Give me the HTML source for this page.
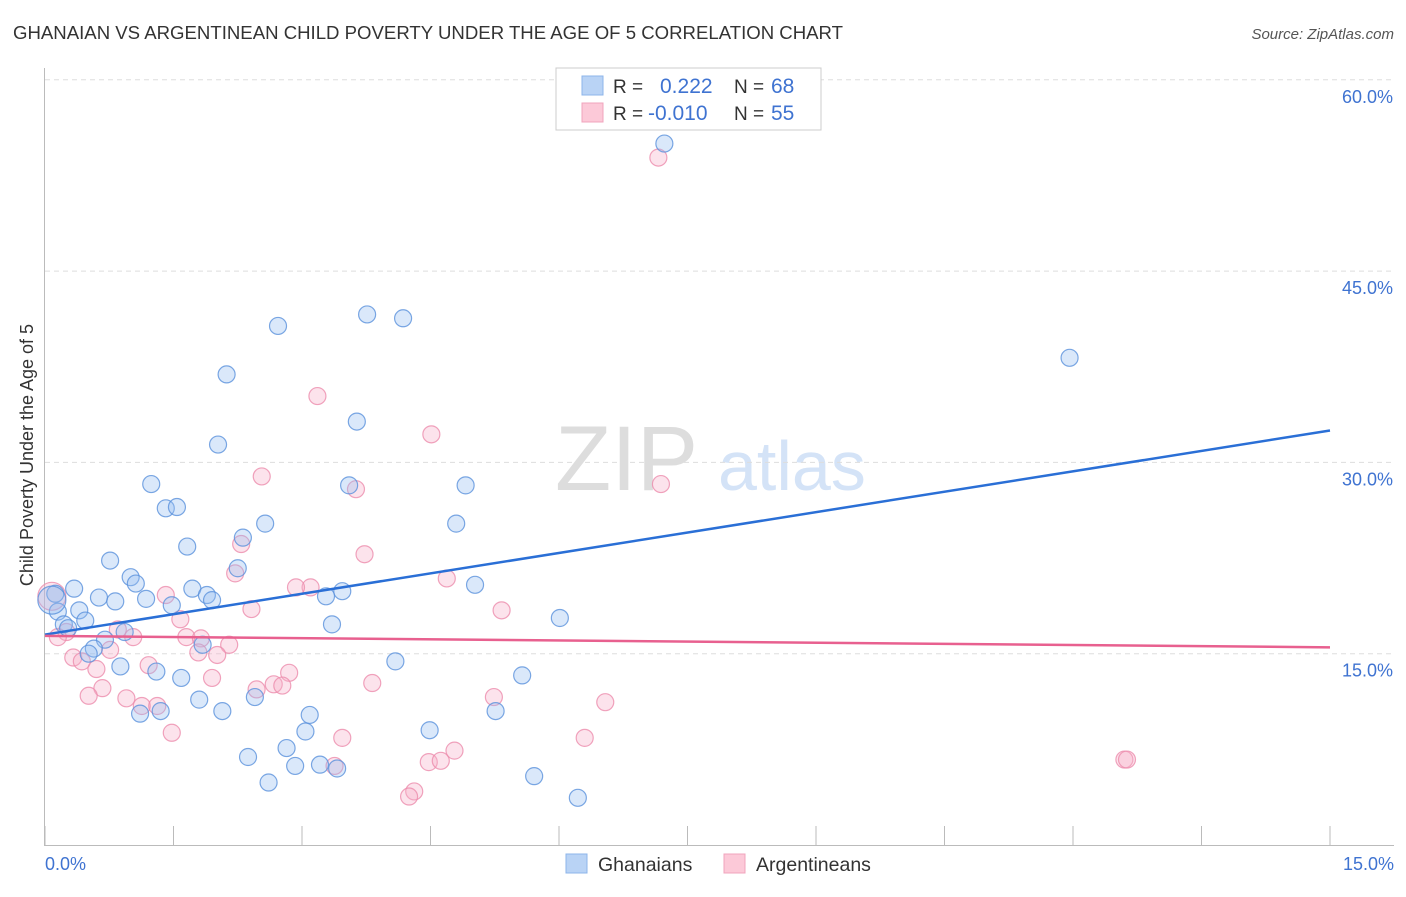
<!DOCTYPE html>
<html><head><meta charset="utf-8"><style>
body{margin:0;background:#fff;font-family:"Liberation Sans",sans-serif}
svg text{font-family:"Liberation Sans",sans-serif}
</style></head><body>
<svg id="chart" width="1406" height="892" viewBox="0 0 1406 892">
<text x="13" y="39" font-size="18.6" fill="#333">GHANAIAN VS ARGENTINEAN CHILD POVERTY UNDER THE AGE OF 5 CORRELATION CHART</text>
<text x="1394" y="39" font-size="15" fill="#555" font-style="italic" text-anchor="end">Source: ZipAtlas.com</text>
<g>
<text x="555" y="490" font-size="92" fill="#ddd" font-family="Liberation Serif">ZIP</text>
<text x="718" y="490" font-size="70" fill="#d4e3f7">atlas</text>
</g>
<g id="grid"></g>
<g id="axes"></g>
<g id="pts"></g>
<g id="lines"></g>
<text transform="translate(33,455) rotate(-90)" font-size="18" fill="#333" text-anchor="middle">Child Poverty Under the Age of 5</text>
<text x="45" y="870" font-size="18" fill="#3f73d1">0.0%</text>
<text x="1394" y="870" font-size="18" fill="#3f73d1" text-anchor="end">15.0%</text>
<g>
<rect x="556" y="68" width="265" height="62" fill="#fff" stroke="#ccc"/>
<rect x="582" y="76" width="21" height="19" fill="#b9d3f5" stroke="#8db4ea"/>
<rect x="582" y="103" width="21" height="19" fill="#fcc9d8" stroke="#f0a4bd"/>
<text x="613" y="93" font-size="19" fill="#333">R =</text>
<text x="660" y="93" font-size="21" fill="#3f73d1">0.222</text>
<text x="734" y="93" font-size="19" fill="#333">N =</text>
<text x="771" y="93" font-size="21" fill="#3f73d1">68</text>
<text x="613" y="120" font-size="19" fill="#333">R =</text>
<text x="648" y="120" font-size="21" fill="#3f73d1">-0.010</text>
<text x="734" y="120" font-size="19" fill="#333">N =</text>
<text x="771" y="120" font-size="21" fill="#3f73d1">55</text>
</g>
<g>
<rect x="566" y="854" width="21" height="19" fill="#b9d3f5" stroke="#8db4ea"/>
<text x="598" y="871" font-size="19.5" fill="#333">Ghanaians</text>
<rect x="724" y="854" width="21" height="19" fill="#fcc9d8" stroke="#f0a4bd"/>
<text x="756" y="871" font-size="19.5" fill="#333">Argentineans</text>
</g>
</svg>
<script>
const yTicks=[15,30,45,60];
const yTickLabels=["15.0%","30.0%","45.0%","60.0%"];
const xTicks=[0,1.5,3,4.5,6,7.5,9,10.5,12,13.5,15];
const blueX=[7.23,2.72,3.76,4.18,11.96,2.12,3.64,2.02,1.24,3.55,4.91,1.41,1.54,2.57,4.80,2.31,1.66,0.76,2.25,1.00,1.06,5.02,0.34,1.72,3.47,0.12,3.28,0.63,1.89,1.18,1.95,0.82,1.48,0.40,0.15,6.01,0.47,3.35,0.22,0.27,0.93,0.70,1.84,0.57,0.51,4.09,0.88,1.30,5.57,1.59,1.80,2.45,1.35,1.11,2.07,5.26,3.09,4.49,3.04,2.82,2.37,2.92,3.21,3.41,5.71,2.61,6.22,0.08];
const blueY=[55.0,40.7,41.6,41.3,38.2,36.9,33.2,31.4,28.3,28.2,28.2,26.4,26.5,25.2,25.2,24.1,23.4,22.3,21.7,21.0,20.5,20.4,20.1,20.1,19.9,19.7,19.5,19.4,19.6,19.3,19.2,19.1,18.8,18.4,18.3,17.8,17.6,17.3,17.3,17.0,16.7,16.1,15.7,15.4,15.0,14.4,14.0,13.6,13.3,13.1,11.4,11.6,10.5,10.3,10.5,10.5,10.2,9.0,8.9,7.6,6.9,6.2,6.3,6.0,5.4,4.9,3.7,19.2];
const pinkX=[7.16,3.18,4.51,2.53,7.19,3.63,2.29,3.73,2.22,4.69,3.10,2.93,1.41,0.08,2.41,5.33,1.58,0.85,0.25,1.03,1.65,1.82,2.15,0.76,0.15,1.79,2.01,0.33,1.21,0.43,0.60,2.85,3.82,2.67,2.77,2.47,0.67,1.95,0.51,0.95,5.24,6.54,1.13,1.31,1.48,3.47,6.30,4.78,4.48,4.62,3.38,12.6,12.63,4.31,4.25];
const pinkY=[53.9,35.2,32.2,28.9,28.3,27.9,23.6,22.8,21.3,20.9,20.2,20.2,19.6,19.5,18.5,18.4,17.7,16.9,16.7,16.3,16.3,16.2,15.7,15.3,16.3,15.1,14.9,14.7,14.1,14.4,13.8,13.5,12.7,12.6,12.5,12.2,12.3,13.1,11.7,11.5,11.6,11.2,10.9,10.9,8.8,8.4,8.4,7.4,6.5,6.6,6.2,6.7,6.7,4.2,3.8];
const blueTrend=[16.5,32.5];
const pinkTrend=[16.4,15.5];
const NS="http://www.w3.org/2000/svg";
const X=v=>45+v*(1285/15);
const Y=v=>845-v*(191.3/15);
function mk(p,tag,a){const e=document.createElementNS(NS,tag);for(const k in a)e.setAttribute(k,a[k]);p.appendChild(e);return e;}
const grid=document.getElementById('grid'),axes=document.getElementById('axes'),pts=document.getElementById('pts'),lines=document.getElementById('lines');
yTicks.forEach((t,i)=>{
 const l=mk(grid,'line',{x1:45,x2:1394,y1:Y(t),y2:Y(t),stroke:'#ddd','stroke-dasharray':'5,4'});
 
 
 const tx=mk(grid,'text',{x:1393,y:Y(t)+23,'font-size':18,fill:'#3f73d1','text-anchor':'end'});
 tx.textContent=yTickLabels[i];
 
 
});
mk(axes,'line',{x1:44.5,x2:44.5,y1:68,y2:845,stroke:'#bbb'});
mk(axes,'line',{x1:44,x2:1394,y1:845.5,y2:845.5,stroke:'#bbb'});
xTicks.forEach(t=>{
 const l=mk(axes,'line',{x1:X(t),x2:X(t),y1:826,y2:845,stroke:'#bbb'});
 
 
});
function dots(xs,ys,fill,stroke,name){
 xs.forEach((x,i)=>{
  const big=(x<0.1);
  const c=mk(pts,'circle',{cx:X(x),cy:Y(ys[i]),r:big?14:8.5,fill:fill,stroke:stroke,'stroke-width':1.2});
  
  
 });
}
dots(pinkX,pinkY,'rgba(247,175,200,0.35)','rgba(236,140,172,0.8)','argentinean-point');
dots(blueX,blueY,'rgba(150,190,240,0.35)','rgba(90,145,220,0.8)','ghanaian-point');
const bl=mk(lines,'line',{x1:X(0),x2:X(15),y1:Y(blueTrend[0]),y2:Y(blueTrend[1]),stroke:'#2a6fd6','stroke-width':2.5});


const pl=mk(lines,'line',{x1:X(0),x2:X(15),y1:Y(pinkTrend[0]),y2:Y(pinkTrend[1]),stroke:'#e8608f','stroke-width':2.5});


</script>
</body></html>
